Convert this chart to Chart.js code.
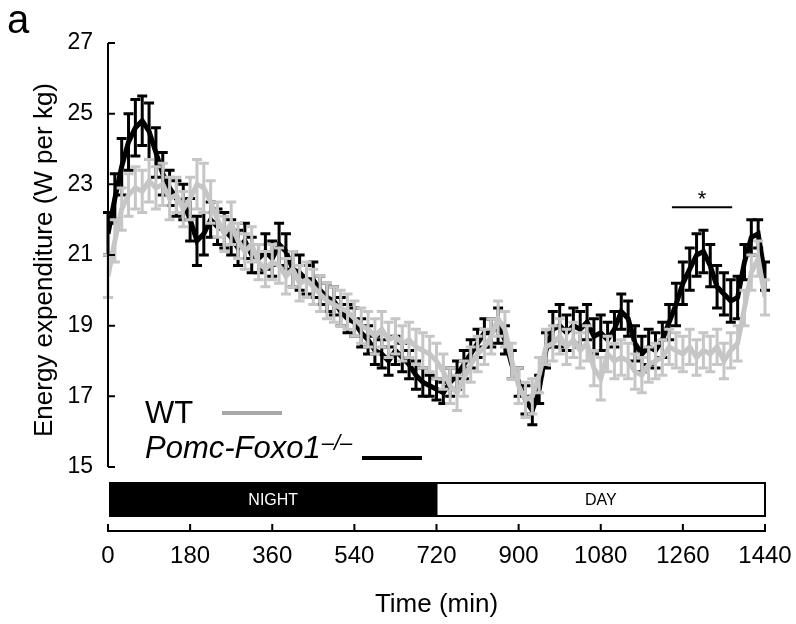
<!DOCTYPE html>
<html>
<head>
<meta charset="utf-8">
<script src="https://cdn.jsdelivr.net/npm/chart.js@4.4.1/dist/chart.umd.min.js"></script>
<style>
  html, body { margin: 0; padding: 0; background: #fff; }
</style>
</head>
<body>
<canvas id="ee" width="796" height="624"></canvas>
<script>
// time points (min)
const times = [0,15,30,45,60,75,90,105,120,135,150,165,180,195,210,225,240,255,270,285,
  300,315,330,345,360,375,390,405,420,435,450,465,480,495,510,525,540,555,570,585,
  600,615,630,645,660,675,690,705,720,735,750,765,780,795,810,825,840,855,870,885,
  900,915,930,945,960,975,990,1005,1020,1035,1050,1065,1080,1095,1110,1125,1140,1155,1170,1185,
  1200,1215,1230,1245,1260,1275,1290,1305,1320,1335,1350,1365,1380,1395,1410,1425,1440];

// WT (grey)
const wtMean = [20.4,21.4,22.3,22.7,22.9,22.8,23.1,22.9,23.0,22.6,
  22.7,22.3,22.6,23.0,22.9,22.5,22.0,21.6,21.9,21.4,
  21.1,21.3,20.8,20.6,20.8,20.7,20.4,20.6,20.2,20.3,
  20.1,19.9,19.7,19.6,19.5,19.4,19.2,19.0,18.9,18.7,
  18.9,18.6,18.7,18.5,18.6,18.4,18.3,18.2,18.0,17.7,
  17.3,17.1,17.5,17.9,18.2,18.4,18.7,19.2,18.9,18.0,
  17.3,16.9,17.0,17.6,18.4,18.5,18.7,18.4,18.6,18.3,
  18.5,17.8,17.5,18.2,18.0,18.1,18.0,17.7,17.6,17.9,
  18.0,18.1,18.4,18.3,18.2,18.4,18.1,18.3,18.2,18.4,
  18.0,18.3,18.5,19.5,20.5,20.9,19.8];
const wtErr = [0.6,0.6,0.6,0.6,0.6,0.6,0.6,0.6,0.6,0.6,
  0.5,0.5,0.6,0.7,0.7,0.6,0.5,0.5,0.6,0.5,
  0.5,0.5,0.5,0.5,0.5,0.5,0.5,0.5,0.5,0.5,
  0.5,0.5,0.5,0.5,0.5,0.5,0.5,0.5,0.5,0.5,
  0.5,0.5,0.5,0.5,0.5,0.5,0.5,0.5,0.5,0.5,
  0.5,0.5,0.5,0.5,0.5,0.5,0.5,0.5,0.5,0.5,
  0.5,0.5,0.5,0.5,0.5,0.5,0.5,0.5,0.5,0.5,
  0.5,0.5,0.6,0.5,0.5,0.5,0.5,0.5,0.5,0.5,
  0.5,0.5,0.5,0.5,0.5,0.5,0.5,0.5,0.5,0.5,
  0.5,0.5,0.5,0.5,0.5,0.5,0.5];

// Pomc-Foxo1-/- (black)
const koMean = [21.6,22.6,23.5,24.2,24.6,24.8,24.5,23.9,23.3,22.9,
  22.6,22.5,22.0,21.4,21.6,22.0,21.8,21.7,21.5,21.2,
  21.4,21.0,20.9,21.1,20.9,21.3,21.1,20.6,20.5,20.3,
  20.3,20.0,19.8,19.7,19.4,19.2,19.1,18.8,18.6,18.3,
  18.2,18.0,18.3,18.1,17.9,17.6,17.4,17.3,17.2,17.1,
  17.4,17.6,17.9,18.2,18.5,18.8,18.8,19.0,18.6,17.9,
  17.4,16.9,16.6,17.2,18.3,18.9,19.0,18.8,19.0,18.9,
  19.1,18.7,18.8,18.6,18.9,19.4,19.2,18.5,18.2,18.4,
  18.3,18.6,19.1,19.6,20.2,20.6,21.0,21.1,20.7,20.1,
  19.9,19.7,19.8,20.8,21.5,21.6,20.4];
const koErr = [0.6,0.7,0.8,0.8,0.8,0.7,0.8,0.7,0.6,0.5,
  0.5,0.5,0.6,0.7,0.6,0.5,0.5,0.5,0.5,0.5,
  0.5,0.5,0.4,0.5,0.5,0.6,0.5,0.5,0.5,0.4,
  0.5,0.4,0.4,0.4,0.4,0.4,0.4,0.4,0.4,0.4,
  0.4,0.4,0.4,0.4,0.4,0.4,0.4,0.3,0.3,0.3,
  0.4,0.4,0.4,0.4,0.4,0.4,0.4,0.5,0.4,0.4,
  0.4,0.4,0.4,0.4,0.5,0.5,0.6,0.5,0.5,0.5,
  0.5,0.5,0.5,0.5,0.5,0.5,0.5,0.5,0.5,0.5,
  0.5,0.5,0.5,0.6,0.6,0.6,0.6,0.6,0.6,0.6,
  0.6,0.6,0.6,0.5,0.5,0.4,0.4];

const xTicks = [0,180,360,540,720,900,1080,1260,1440];
const yTicks = [15,17,19,21,23,25,27];
const phases = [
  { label: 'NIGHT', from: 0, to: 720, fill: '#000', text: '#fff' },
  { label: 'DAY', from: 720, to: 1440, fill: '#fff', text: '#000' },
];
const sig = { from: 1236, to: 1368, y: 22.35, label: '*' };

const FONT = '"Liberation Sans", Arial, sans-serif';
const GREY = '#c6c6c6';

function pts(mean) {
  return times.map((t, i) => ({ x: t, y: mean[i] }));
}

// error bars, drawn under each line
const errorBars = {
  id: 'errorBars',
  beforeDatasetDraw(chart, args) {
    const ds = chart.data.datasets[args.index];
    const xs = chart.scales.x, ys = chart.scales.y;
    const ctx = chart.ctx;
    ctx.save();
    ctx.strokeStyle = ds.borderColor;
    ctx.lineWidth = 3;
    ds.mean.forEach((m, i) => {
      const px = xs.getPixelForValue(times[i]);
      const top = ys.getPixelForValue(m + ds.err[i]);
      const bot = ys.getPixelForValue(m - ds.err[i]);
      ctx.beginPath();
      ctx.moveTo(px, top); ctx.lineTo(px, bot);
      ctx.moveTo(px - 5, top); ctx.lineTo(px + 5, top);
      ctx.moveTo(px - 5, bot); ctx.lineTo(px + 5, bot);
      ctx.stroke();
    });
    ctx.restore();
  }
};

// axis lines, inward ticks, night/day bar, legend, labels
const decor = {
  id: 'decor',
  afterDraw(chart) {
    const ctx = chart.ctx;
    const xs = chart.scales.x, ys = chart.scales.y;
    const area = chart.chartArea;
    ctx.save();
    ctx.strokeStyle = '#000';
    ctx.lineWidth = 2;

    // y axis line (15..27 only) with inward ticks
    ctx.beginPath();
    ctx.moveTo(area.left, ys.getPixelForValue(yTicks[yTicks.length - 1]));
    ctx.lineTo(area.left, ys.getPixelForValue(yTicks[0]));
    yTicks.forEach(v => {
      const py = ys.getPixelForValue(v);
      ctx.moveTo(area.left, py);
      ctx.lineTo(area.left + 7, py);
    });
    ctx.stroke();

    // x ticks pointing up
    ctx.beginPath();
    xTicks.forEach(t => {
      const px = xs.getPixelForValue(t);
      ctx.moveTo(px, area.bottom);
      ctx.lineTo(px, area.bottom - 7);
    });
    ctx.stroke();

    // night / day bar
    const barTop = 483, barBot = 516;
    phases.forEach(p => {
      const x0 = xs.getPixelForValue(p.from) + (p.from === 0 ? 2 : 0);
      const x1 = xs.getPixelForValue(p.to);
      ctx.fillStyle = p.fill;
      ctx.fillRect(x0, barTop, x1 - x0, barBot - barTop);
      ctx.strokeRect(x0, barTop, x1 - x0, barBot - barTop);
      ctx.fillStyle = p.text;
      ctx.font = '16px ' + FONT;
      ctx.textAlign = 'center';
      ctx.textBaseline = 'middle';
      ctx.fillText(p.label, (x0 + x1) / 2, (barTop + barBot) / 2 + 1);
    });

    // significance bar
    const sy = ys.getPixelForValue(sig.y);
    ctx.beginPath();
    ctx.moveTo(xs.getPixelForValue(sig.from), sy);
    ctx.lineTo(xs.getPixelForValue(sig.to), sy);
    ctx.stroke();
    ctx.fillStyle = '#000';
    ctx.font = '22px ' + FONT;
    ctx.textAlign = 'center';
    ctx.textBaseline = 'alphabetic';
    ctx.fillText(sig.label, xs.getPixelForValue((sig.from + sig.to) / 2), sy - 1);

    // y title
    ctx.save();
    ctx.translate(45, 260);
    ctx.rotate(-Math.PI / 2);
    ctx.font = '26px ' + FONT;
    ctx.textAlign = 'center';
    ctx.textBaseline = 'middle';
    ctx.fillText('Energy expenditure (W per kg)', 0, 0);
    ctx.restore();

    // panel letter
    ctx.font = '40px ' + FONT;
    ctx.textAlign = 'left';
    ctx.textBaseline = 'alphabetic';
    ctx.fillText('a', 7, 33);

    // legend
    ctx.font = '31px ' + FONT;
    ctx.fillText('WT', 145, 423);
    ctx.strokeStyle = '#a8a8a8';
    ctx.lineWidth = 4;
    ctx.beginPath(); ctx.moveTo(222, 413); ctx.lineTo(282, 413); ctx.stroke();

    ctx.font = 'italic 31px ' + FONT;
    ctx.fillText('Pomc-Foxo1', 145, 458);
    const w = ctx.measureText('Pomc-Foxo1').width;
    ctx.font = 'italic 22px ' + FONT;
    ctx.fillText('–/–', 145 + w + 1, 450);
    ctx.strokeStyle = '#000';
    ctx.beginPath(); ctx.moveTo(362, 458); ctx.lineTo(422, 458); ctx.stroke();

    ctx.restore();
  }
};

new Chart(document.getElementById('ee'), {
  type: 'line',
  data: {
    datasets: [
      { label: 'WT', data: pts(wtMean), mean: wtMean, err: wtErr,
        borderColor: GREY, borderWidth: 5, pointRadius: 0, tension: 0 },
      { label: 'Pomc-Foxo1–/–', data: pts(koMean), mean: koMean, err: koErr,
        borderColor: '#000', borderWidth: 5, pointRadius: 0, tension: 0 },
    ],
  },
  options: {
    responsive: false,
    animation: false,
    devicePixelRatio: 1,
    layout: { padding: { top: 43, right: 31, left: 0, bottom: 0 } },
    plugins: {
      legend: { display: false },
      tooltip: { enabled: false },
    },
    scales: {
      x: {
        type: 'linear',
        min: 0,
        max: 1440,
        afterFit: s => { s.height = 93; },
        afterBuildTicks: s => { s.ticks = xTicks.map(v => ({ value: v })); },
        grid: { display: false },
        border: { display: true, color: '#000', width: 2 },
        ticks: { color: '#000', padding: 3, maxRotation: 0, callback: v => String(v),
          font: { family: FONT, size: 24 } },
        title: { display: true, text: 'Time (min)', color: '#000',
          padding: { top: 0, bottom: 4 }, font: { family: FONT, size: 26 } },
      },
      y: {
        min: 13.19,
        max: 27,
        afterFit: s => { s.width = 108; },
        afterBuildTicks: s => { s.ticks = yTicks.map(v => ({ value: v })); },
        grid: { drawOnChartArea: false, drawTicks: false },
        border: { display: false },
        ticks: { color: '#000', padding: 15, font: { family: FONT, size: 23 } },
      },
    },
  },
  plugins: [errorBars, decor],
});
</script>
</body>
</html>
